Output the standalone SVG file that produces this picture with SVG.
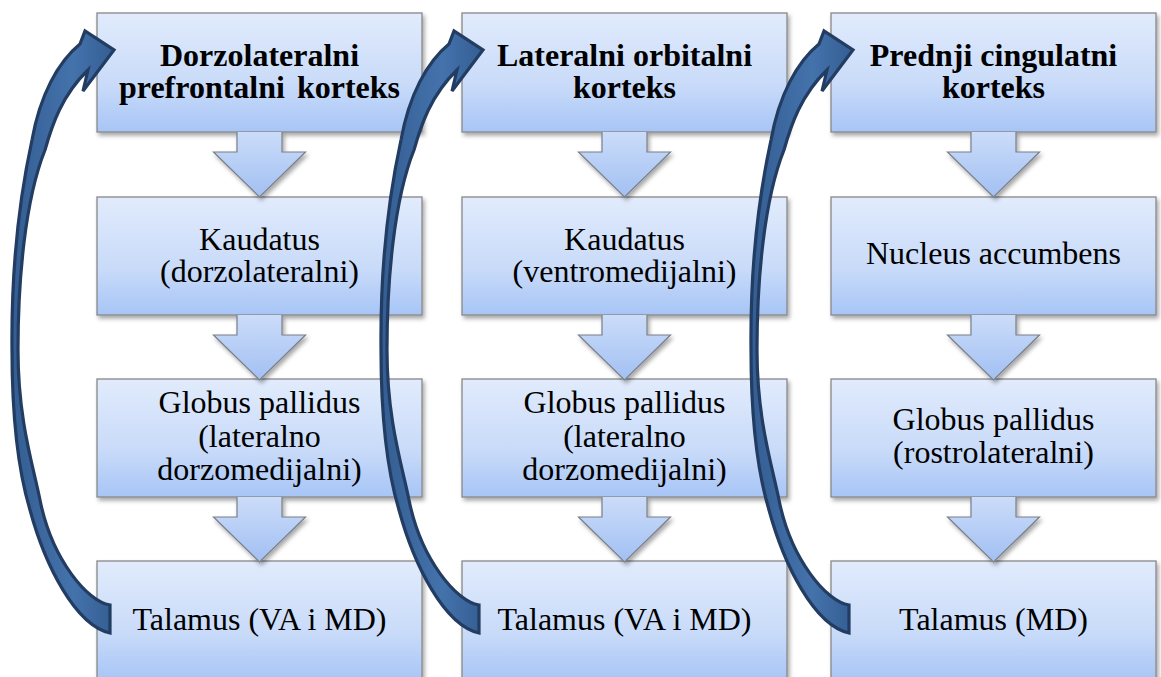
<svg xmlns="http://www.w3.org/2000/svg" width="1161" height="677" viewBox="0 0 1161 677">
<defs>
<linearGradient id="boxg" x1="0" y1="0" x2="0" y2="1">
<stop offset="0" stop-color="#e1ebfc"/>
<stop offset="0.6" stop-color="#c9dbf9"/>
<stop offset="1" stop-color="#a7c5f6"/>
</linearGradient>
<linearGradient id="arrg" x1="0" y1="0" x2="0" y2="1">
<stop offset="0" stop-color="#cbdcf9"/>
<stop offset="1" stop-color="#a2c0f3"/>
</linearGradient>
<linearGradient id="curveg" x1="0" y1="0" x2="1" y2="0">
<stop offset="0" stop-color="#345e93"/>
<stop offset="0.6" stop-color="#4472ab"/>
<stop offset="1" stop-color="#345e93"/>
</linearGradient>
<filter id="sh" x="-10%" y="-10%" width="125%" height="130%">
<feDropShadow dx="2" dy="3" stdDeviation="2" flood-color="#000" flood-opacity="0.35"/>
</filter>
<path id="curve" d="M110,605 C88,602 52,560 40,500 C33,465 18,420 18,350 C18,280 25,200 45,150 C52,125 62,95 88,70 L83,91 L114,50 L85,31 L80,44 C58,62 40,95 32,140 C22,186 11,255 12,350 C12,420 18,470 30,510 C45,565 75,625 110,633 Z"/>
<path id="blk" d="M-22.5,0 L-22.5,20 L-46,20 L0,65 L46,20 L22.5,20 L22.5,0"/>
</defs>
<style>
.box{fill:url(#boxg);stroke:#888;stroke-width:1.3;filter:url(#sh)}
.t{font-family:"Liberation Serif","Times New Roman",serif;font-size:32px;fill:#000;text-anchor:middle}
.b{font-weight:bold}
.blk{fill:url(#arrg);stroke:#7a7f88;stroke-width:1.2;filter:url(#sh)}
.cv{fill:url(#curveg);stroke:#223c62;stroke-width:3.2;stroke-linejoin:miter}
</style>
<g id="nodes">
<g id="n1a"><rect class="box" x="97" y="13" width="325" height="119"/><text class="t b" x="259.5" y="66">Dorzolateralni</text><text class="t b" x="259.5" y="98" word-spacing="4">prefrontalni korteks</text></g>
<g id="n1b"><rect class="box" x="97" y="197" width="325" height="118"/><text class="t" x="259.5" y="250">Kaudatus</text><text class="t" x="259.5" y="282">(dorzolateralni)</text></g>
<g id="n1c"><rect class="box" x="97" y="379" width="325" height="118"/><text class="t" x="259.5" y="413">Globus pallidus</text><text class="t" x="259.5" y="447">(lateralno</text><text class="t" x="259.5" y="480">dorzomedijalni)</text></g>
<g id="n1d"><rect class="box" x="97" y="561" width="325" height="119"/><text class="t" x="259.5" y="630">Talamus (VA i MD)</text></g>

<g id="n2a"><rect class="box" x="462" y="13" width="325" height="119"/><text class="t b" x="624.5" y="66">Lateralni orbitalni</text><text class="t b" x="624.5" y="98">korteks</text></g>
<g id="n2b"><rect class="box" x="462" y="197" width="325" height="118"/><text class="t" x="624.5" y="250">Kaudatus</text><text class="t" x="624.5" y="282">(ventromedijalni)</text></g>
<g id="n2c"><rect class="box" x="462" y="379" width="325" height="118"/><text class="t" x="624.5" y="413">Globus pallidus</text><text class="t" x="624.5" y="447">(lateralno</text><text class="t" x="624.5" y="480">dorzomedijalni)</text></g>
<g id="n2d"><rect class="box" x="462" y="561" width="325" height="119"/><text class="t" x="624.5" y="630">Talamus (VA i MD)</text></g>

<g id="n3a"><rect class="box" x="831" y="13" width="325" height="119"/><text class="t b" x="993.5" y="66">Prednji cingulatni</text><text class="t b" x="993.5" y="98">korteks</text></g>
<g id="n3b"><rect class="box" x="831" y="197" width="325" height="118"/><text class="t" x="993.5" y="264">Nucleus accumbens</text></g>
<g id="n3c"><rect class="box" x="831" y="379" width="325" height="118"/><text class="t" x="993.5" y="430">Globus pallidus</text><text class="t" x="993.5" y="463">(rostrolateralni)</text></g>
<g id="n3d"><rect class="box" x="831" y="561" width="325" height="119"/><text class="t" x="993.5" y="630">Talamus (MD)</text></g>
</g>
<g id="connectors">
<use href="#blk" class="blk" transform="translate(259.5,132)"/>
<use href="#blk" class="blk" transform="translate(259.5,315)"/>
<use href="#blk" class="blk" transform="translate(259.5,497)"/>
<use href="#blk" class="blk" transform="translate(624.5,132)"/>
<use href="#blk" class="blk" transform="translate(624.5,315)"/>
<use href="#blk" class="blk" transform="translate(624.5,497)"/>
<use href="#blk" class="blk" transform="translate(993.5,132)"/>
<use href="#blk" class="blk" transform="translate(993.5,315)"/>
<use href="#blk" class="blk" transform="translate(993.5,497)"/>
<use href="#curve" class="cv"/>
<use href="#curve" class="cv" transform="translate(369,0)"/>
<use href="#curve" class="cv" transform="translate(739,0)"/>
</g>
</svg>
